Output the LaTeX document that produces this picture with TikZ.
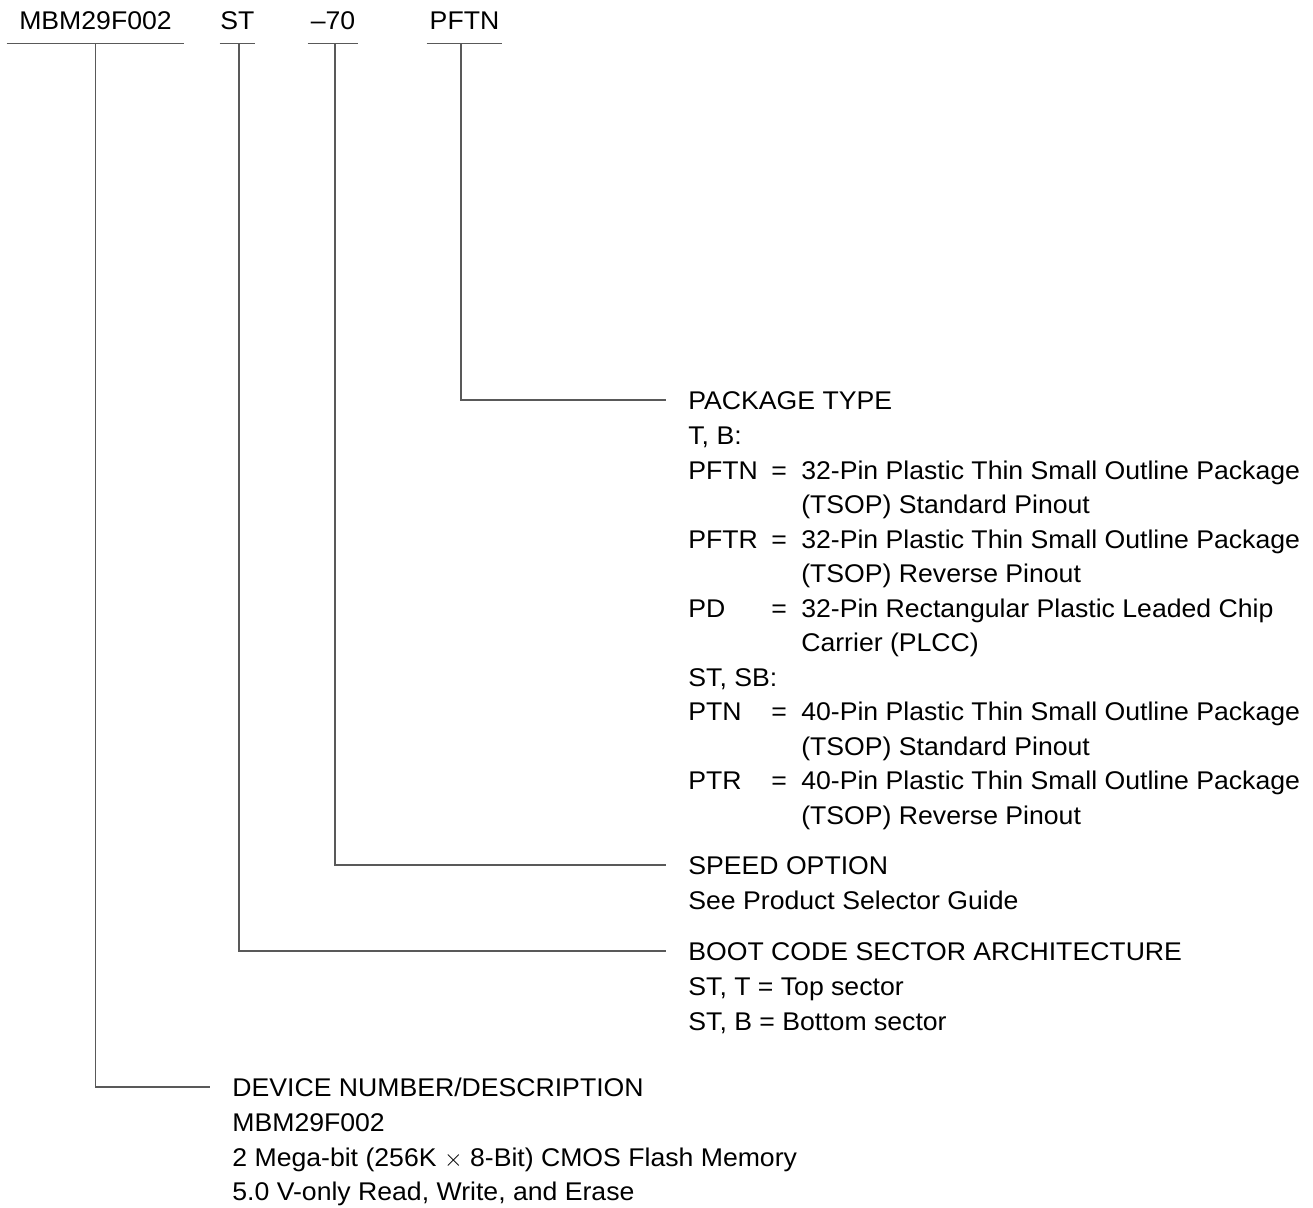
\documentclass[tikz,border=0pt]{standalone}
\usepackage{fontspec}
\setmainfont{Liberation Sans}[FakeStretch=1.04]
\usetikzlibrary{positioning}

\begin{document}
\begin{tikzpicture}[
  x=0.5pt, y=-0.5pt,
  every node/.style={font=\fontsize{12.8}{17.25}\selectfont, inner sep=0pt},
  code/.style={anchor=base, text depth=0pt, inner ysep=7pt},
  title/.style={anchor=west, text height=9.2pt, text depth=0pt},
  lead/.style={draw=black!65, line width=0.65pt},
  link/.style={lead, shorten >=11pt}
]
  \useasboundingbox (0,0) rectangle (1313,1207);

  % part number, split into its fields
  \node[code, minimum width=88.5pt] (devcode) at (95.5,29) {MBM29F002};
  \node[code, minimum width=17.5pt] (bootcode) at (237.5,29) {ST};
  \node[code, minimum width=25pt] (speedcode) at (333,29) {--70};
  \node[code, minimum width=37.5pt] (pkgcode) at (464.5,29) {PFTN};
  \foreach \c in {devcode, bootcode, speedcode, pkgcode}
    \draw[lead] (\c.south west) -- (\c.south east);

  % what each field means
  \node[title] (pkgtitle) at (688,400) {PACKAGE TYPE};
  \node[below=5.2pt of pkgtitle.south west, anchor=north west] (pkgtext) {%
    \begin{tabular}[t]{@{}p{41.5pt}@{}l@{\hspace{7.2pt}}l@{}}
      \multicolumn{3}{@{}l@{}}{T, B:}\\
      PFTN & = & 32-Pin Plastic Thin Small Outline Package\\
           &   & (TSOP) Standard Pinout\\
      PFTR & = & 32-Pin Plastic Thin Small Outline Package\\
           &   & (TSOP) Reverse Pinout\\
      PD   & = & 32-Pin Rectangular Plastic Leaded Chip\\
           &   & Carrier (PLCC)\\
      \multicolumn{3}{@{}l@{}}{ST, SB:}\\
      PTN  & = & 40-Pin Plastic Thin Small Outline Package\\
           &   & (TSOP) Standard Pinout\\
      PTR  & = & 40-Pin Plastic Thin Small Outline Package\\
           &   & (TSOP) Reverse Pinout
    \end{tabular}};

  \node[title] (speedtitle) at (688,865) {SPEED OPTION};
  \node[below=5.2pt of speedtitle.south west, anchor=north west] (speedtext) {%
    \begin{tabular}[t]{@{}l@{}}
      See Product Selector Guide
    \end{tabular}};

  \node[title] (boottitle) at (688,951) {BOOT CODE SECTOR ARCHITECTURE};
  \node[below=5.2pt of boottitle.south west, anchor=north west] (boottext) {%
    \begin{tabular}[t]{@{}l@{}}
      ST, T = Top sector\\
      ST, B = Bottom sector
    \end{tabular}};

  \node[title] (devtitle) at (232,1087) {DEVICE NUMBER/DESCRIPTION};
  \node[below=5.2pt of devtitle.south west, anchor=north west] (devtext) {%
    \begin{tabular}[t]{@{}l@{}}
      MBM29F002\\
      2 Mega-bit (256K $\times$ 8-Bit) CMOS Flash Memory\\
      5.0 V-only Read, Write, and Erase
    \end{tabular}};

  % leaders from each field to its meaning
  \draw[link] ([xshift=-1.75pt]pkgcode.south) |- (pkgtitle.west);
  \draw[link] ([xshift=1pt]speedcode.south) |- (speedtitle.west);
  \draw[link] ([xshift=0.75pt]bootcode.south) |- (boottitle.west);
  \draw[link] (devcode.south) |- (devtitle.west);
\end{tikzpicture}
\end{document}
